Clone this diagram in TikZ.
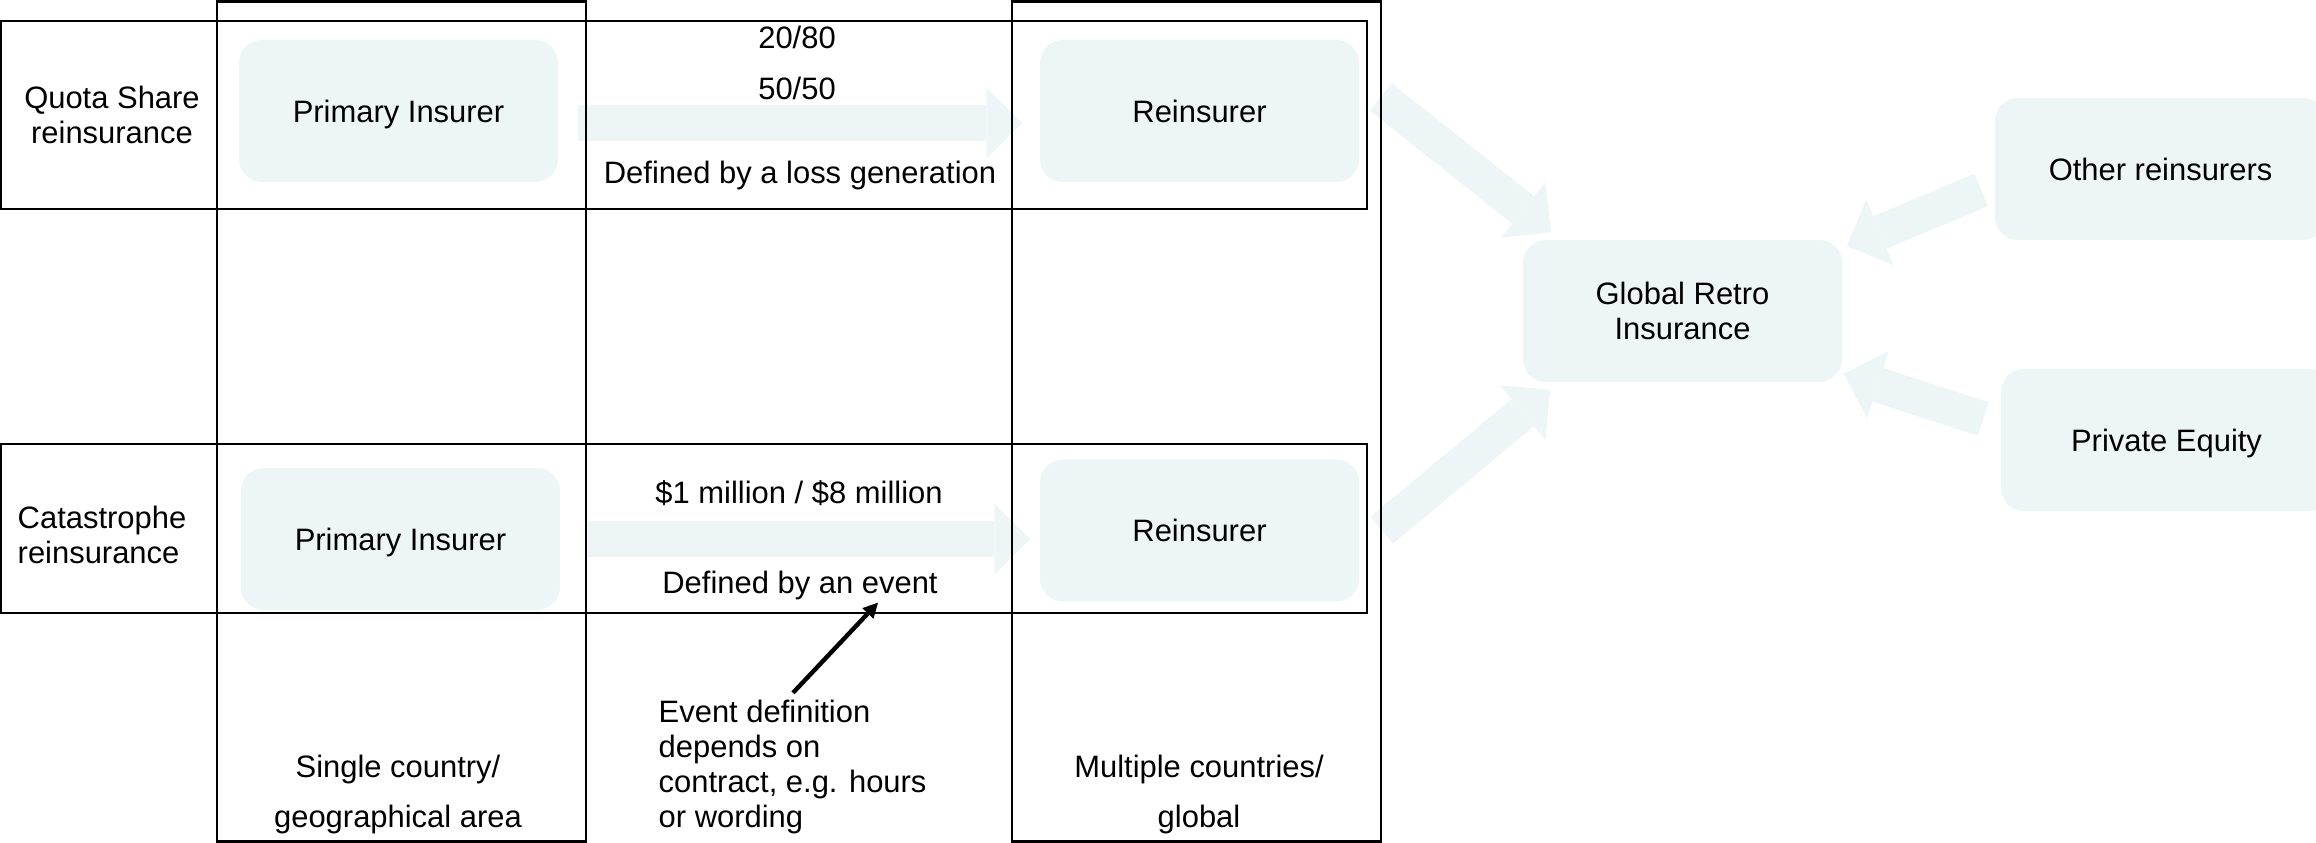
\documentclass[tikz,border=0pt]{standalone}
\usepackage{fontspec}
\setmainfont{Liberation Sans}
\usetikzlibrary{arrows.meta,calc}
\definecolor{boxfill}{RGB}{238,245,246}
\definecolor{arrfill}{RGB}{237,245,247}
\begin{document}
\begin{tikzpicture}[x=0.01cm,y=-0.01cm,
  txt/.style={font=\fontsize{8.8}{9.96}\selectfont, inner sep=0pt, align=center, text depth=0pt},
  wide/.style={font=\fontsize{8.8}{14.2}\selectfont},
  box/.style={fill=boxfill, rounded corners=0.23cm, minimum width=3.19cm, minimum height=1.42cm,
    inner sep=0pt, font=\fontsize{8.8}{9.96}\selectfont, align=center, text depth=0pt},
  frame/.style={draw=black, line width=0.65pt},
  fat/.style={draw=arrfill, line width=10pt, -{Triangle[length=10.2pt,width=20.2pt,line width=0pt]}},
  pointer/.style={draw=black, line width=1.25pt, -{Triangle[length=4.2pt,width=4.4pt,line width=0pt]}}
]
\useasboundingbox (0,0) rectangle (2316,843);

% boxes
\node[box] (pi1) at (398.5,111) {Primary Insurer};
\node[box] (re1) at (1199.5,111) {Reinsurer};
\node[box] (pi2) at (400.5,539) {Primary Insurer};
\node[box] (re2) at (1199.5,530.5) {Reinsurer};
\node[box] (gr) at (1682.5,311) {Global Retro\\Insurance};
\node[box, minimum width=3.31cm] (or) at (2160.5,169) {Other reinsurers};
\node[box, minimum width=3.31cm] (pe) at (2166.5,440) {Private Equity};

% texts
\node[txt] (qs) at (112,114.75) {Quota Share\\reinsurance};
\node[txt, anchor=west, align=left] (cat) at (17,534.5) {Catastrophe\\reinsurance};
\node[txt, anchor=base] (t2080) at (797,49) {20/80};
\node[txt, anchor=base] (t5050) at (797,100) {50/50};
\node[txt, anchor=base] (tloss) at (800,184) {Defined by a loss generation};
\node[txt, anchor=base] (tmil) at (799,503) {\$1 million / \$8 million};
\node[txt, anchor=base] (tevent) at (800,593) {Defined by an event};
\node[txt, anchor=west, align=left] (evdef) at (658,763.75) {Event definition\\depends on\\contract, e.g. hours\\or wording};
\node[txt, wide] (sc) at (398,791.25) {Single country/\\geographical area};
\node[txt, wide] (mc) at (1199,791.25) {Multiple countries/\\global};

% block arrows
\draw[fat] ($(pi1.east)+(19,12)$) -- ($(re1.west)+(-17,12)$);
\draw[fat] ($(pi2.east)+(27,0)$) -- ($(re2.west)+(-9,8.5)$);
\draw[fat] ($(re1.east)+(21,-14)$) -- ($(gr.north west)+(29,-7)$);
\draw[fat] ($(re2.east)+(22,-0.5)$) -- ($(gr.south west)+(28,7)$);
\draw[fat] ($(or.west)+(-13,21)$) -- ($(gr.north east)+(4,7)$);
\draw[fat] ($(pe.west)+(-17,-21)$) -- ($(gr.south east)+(1,-9)$);

% frames
\draw[frame] (217,1.5) rectangle (586,841.5);
\draw[frame] (1012,1.5) rectangle (1381,841.5);
\draw[frame] (1.2,21) rectangle (1367,209);
\draw[frame] (1.2,444) rectangle (1367,613);

% pointer
\draw[pointer] ($(evdef.north west)+(135,-6.5)$) -- ($(tevent.south)+(78,9)$);
\end{tikzpicture}
\end{document}
